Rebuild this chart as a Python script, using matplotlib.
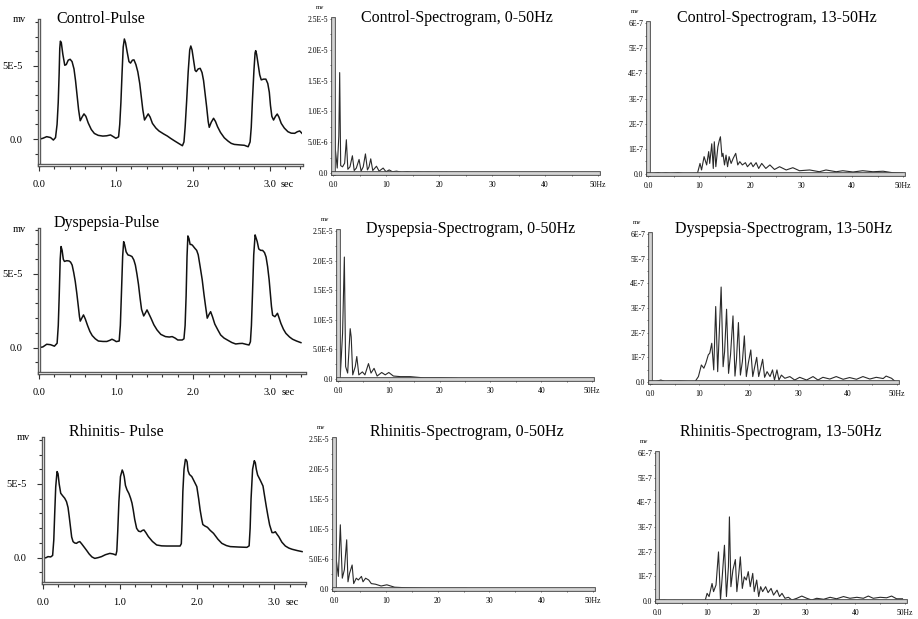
import matplotlib
matplotlib.use("Agg")
import matplotlib.pyplot as plt
import matplotlib.patheffects as pe
from matplotlib.ticker import MultipleLocator

plt.rcParams['font.family'] = ['Liberation Serif', 'DejaVu Serif']

# ---- pulse traces (time in sec, amplitude in 1E-5 mv) ----
ctrl_pulse_t = [0.0, 0.05, 0.1, 0.15, 0.187, 0.215, 0.235, 0.25, 0.262, 0.27, 0.278, 0.29, 0.31, 0.335,
                0.355, 0.38, 0.405, 0.43, 0.455, 0.475, 0.495, 0.515, 0.536, 0.56, 0.585, 0.61, 0.64, 0.68,
                0.72, 0.77, 0.83, 0.88, 0.93, 0.97, 1.0, 1.035,
                1.05, 1.065, 1.08, 1.095, 1.11, 1.125, 1.145, 1.17, 1.19, 1.215, 1.235, 1.26, 1.285, 1.31,
                1.33, 1.35, 1.372, 1.395, 1.42, 1.445, 1.475, 1.52, 1.56, 1.62, 1.67, 1.71, 1.76, 1.8,
                1.84, 1.865, 1.885,
                1.9, 1.92, 1.94, 1.96, 1.974, 1.99, 2.01, 2.03, 2.045, 2.07, 2.096, 2.12, 2.14, 2.16,
                2.18, 2.2, 2.214, 2.24, 2.27, 2.295, 2.322, 2.36, 2.41, 2.46, 2.5, 2.54, 2.6, 2.67,
                2.72, 2.745,
                2.76, 2.775, 2.795, 2.81, 2.818, 2.83, 2.85, 2.87, 2.89, 2.92, 2.95, 2.975, 2.995, 3.01,
                3.028, 3.05, 3.075, 3.098, 3.12, 3.15, 3.19, 3.237, 3.28, 3.325, 3.36, 3.39, 3.442]
ctrl_pulse_v = [-0.02, 0.05, 0.16, 0.1, -0.07, 0.1, 1.0, 2.5, 4.5, 6.2, 6.7, 6.6, 5.8, 5.05,
                5.1, 5.4, 5.46, 5.3, 4.8, 4.0, 3.0, 2.0, 1.25, 1.5, 1.72, 1.55, 1.1, 0.65,
                0.38, 0.25, 0.2, 0.22, 0.28, 0.15, 0.05, 0.15,
                1.0, 2.5, 4.5, 6.3, 6.85, 6.6, 6.0, 5.3, 5.2, 5.4, 5.42, 5.1, 4.6, 3.8,
                2.9, 2.0, 1.3, 1.5, 1.72, 1.5, 1.07, 0.75, 0.55, 0.35, 0.2, 0.05, -0.12, -0.25,
                -0.38, -0.46, -0.2,
                0.8, 2.6, 4.6, 6.1, 6.37, 6.1, 5.4, 4.7, 4.62, 4.8, 4.84, 4.55, 4.0, 3.1,
                2.2, 1.2, 0.8, 1.15, 1.42, 1.2, 0.84, 0.45, 0.08, -0.15, -0.3, -0.37, -0.4, -0.43,
                -0.53, -0.2,
                0.8, 2.6, 4.7, 5.9, 6.05, 5.8, 5.1, 4.4, 4.05, 4.1, 4.1, 3.8, 3.2, 2.3,
                1.55, 1.3, 1.55, 1.71, 1.5, 1.07, 0.75, 0.5, 0.4, 0.39, 0.5, 0.55, 0.27]

dysp_pulse_t = [0.0, 0.05, 0.1, 0.15, 0.2, 0.235, 0.25, 0.262, 0.275, 0.286, 0.3, 0.315, 0.33, 0.36,
                0.39, 0.41, 0.43, 0.45, 0.47, 0.49, 0.51, 0.525, 0.535, 0.555, 0.577, 0.6, 0.63, 0.66,
                0.69, 0.73, 0.77, 0.83, 0.88, 0.92, 0.946, 0.975, 1.002, 1.04,
                1.055, 1.068, 1.085, 1.098, 1.11, 1.13, 1.154, 1.18, 1.206, 1.23, 1.25, 1.27, 1.29, 1.31,
                1.33, 1.358, 1.38, 1.401, 1.425, 1.453, 1.49, 1.531, 1.58, 1.64, 1.69, 1.727, 1.765, 1.8,
                1.857, 1.88,
                1.895, 1.908, 1.92, 1.931, 1.945, 1.96, 1.975, 1.99, 2.02, 2.045, 2.065, 2.09, 2.117, 2.14,
                2.161, 2.182, 2.205, 2.226, 2.25, 2.28, 2.32, 2.356, 2.4, 2.443, 2.5, 2.551, 2.6, 2.638,
                2.69, 2.724, 2.742,
                2.755, 2.768, 2.785, 2.803, 2.815, 2.83, 2.85, 2.875, 2.9, 2.925, 2.945, 2.965, 2.985, 3.0,
                3.015, 3.03, 3.06, 3.093, 3.115, 3.137, 3.17, 3.202, 3.25, 3.289, 3.34, 3.397]
dysp_pulse_v = [0.0, 0.05, 0.23, 0.2, 0.1, 0.3, 1.5, 3.5, 6.0, 6.86, 6.6, 6.0, 5.85, 5.9,
                5.88, 5.8, 5.6, 5.1, 4.5, 3.7, 2.8, 2.1, 1.8, 2.0, 2.22, 1.95, 1.5, 1.1,
                0.82, 0.6, 0.45, 0.42, 0.42, 0.5, 0.57, 0.5, 0.41, 0.45,
                1.5, 3.5, 6.2, 7.19, 7.0, 6.5, 6.29, 6.25, 6.18, 5.95, 5.6, 5.0, 4.3, 3.4,
                2.6, 2.15, 2.35, 2.56, 2.3, 1.99, 1.55, 1.2, 0.9, 0.75, 0.72, 0.75, 0.65, 0.52,
                0.52, 0.6,
                1.5, 3.5, 6.2, 7.58, 7.4, 7.0, 7.0, 6.95, 6.75, 6.6, 6.3, 5.5, 4.6, 3.6,
                2.78, 2.0, 2.25, 2.44, 2.1, 1.6, 1.2, 0.86, 0.65, 0.52, 0.35, 0.25, 0.28, 0.29,
                0.22, 0.18, 0.4,
                1.5, 3.5, 6.3, 7.65, 7.45, 7.2, 6.7, 6.6, 6.6, 6.45, 6.15, 5.5, 4.6, 3.7,
                2.8, 2.2, 2.1, 2.33, 2.0, 1.65, 1.25, 0.97, 0.72, 0.57, 0.45, 0.34]

rhin_pulse_t = [0.0, 0.04, 0.065, 0.1, 0.125, 0.14, 0.152, 0.165, 0.182, 0.195, 0.21, 0.23, 0.255, 0.282,
                0.305, 0.325, 0.34, 0.356, 0.372, 0.39, 0.41, 0.434, 0.455, 0.477, 0.5, 0.529, 0.565, 0.599,
                0.635, 0.672, 0.715, 0.759, 0.81, 0.868, 0.91, 0.946, 0.958,
                0.97, 0.985, 1.005, 1.028, 1.04, 1.054, 1.07, 1.09, 1.115, 1.137, 1.155, 1.171, 1.19, 1.215,
                1.24, 1.267, 1.29, 1.31, 1.335, 1.367, 1.42, 1.475, 1.54, 1.605, 1.7, 1.779, 1.795,
                1.805, 1.815, 1.83, 1.848, 1.86, 1.87, 1.882, 1.9, 1.931, 1.96, 1.996, 2.02, 2.039, 2.06,
                2.074, 2.1, 2.134, 2.17, 2.213, 2.27, 2.321, 2.38, 2.43, 2.54, 2.646, 2.675,
                2.688, 2.7, 2.72, 2.742, 2.755, 2.768, 2.785, 2.82, 2.855, 2.875, 2.898, 2.92, 2.941, 2.972,
                2.995, 3.015, 3.035, 3.059, 3.1, 3.145, 3.19, 3.232, 3.3, 3.362]
rhin_pulse_v = [-0.05, 0.0, 0.07, 0.05, 0.15, 1.2, 3.0, 4.8, 5.84, 5.7, 5.0, 4.37, 4.2, 4.03,
                3.8, 3.4, 2.8, 2.1, 1.4, 1.09, 1.0, 0.97, 1.05, 1.09, 0.95, 0.75, 0.5, 0.25,
                0.05, -0.05, 0.0, 0.07, 0.2, 0.29, 0.25, 0.18, 0.45,
                1.8, 3.8, 5.5, 5.95, 5.8, 5.5, 4.9, 4.6, 4.35, 4.03, 3.7, 3.24, 2.6, 1.99,
                1.8, 1.76, 1.85, 1.88, 1.7, 1.43, 1.1, 0.86, 0.8, 0.79, 0.79, 0.79, 0.95,
                2.5, 4.5, 6.0, 6.67, 6.62, 6.5, 5.9, 5.65, 5.5, 5.2, 4.82, 4.0, 3.24, 2.6,
                2.25, 2.15, 2.06, 1.85, 1.65, 1.25, 0.97, 0.82, 0.75, 0.72, 0.70, 0.8,
                2.0, 4.0, 6.0, 6.58, 6.45, 6.0, 5.61, 5.25, 4.86, 4.2, 3.46, 2.8, 2.22, 1.7,
                1.7, 1.76, 1.6, 1.43, 1.05, 0.79, 0.65, 0.57, 0.48, 0.41]

# ---- spectra 0-50 Hz (freq in Hz, amplitude in 1E-5 mv) ----
ctrl_spec_f = [0.0, 0.2, 0.45, 0.8, 1.1, 1.26, 1.45, 1.8, 2.2, 2.52, 2.8, 3.2, 3.66, 4.0, 4.4,
               4.92, 5.3, 5.7, 6.12, 6.5, 6.8, 7.12, 7.5, 8.2, 8.7, 9.46, 10.0, 10.6, 11.2, 12.0,
               13.0, 14.0, 15.0, 16.0, 17.0, 18.0, 19.0, 20.0, 21.0, 21.5, 22.0, 50.0]
ctrl_spec_a = [2.5, 2.5, 0.38, 0.08, 0.6, 1.63, 0.12, 0.1, 0.16, 0.54, 0.06, 0.1, 0.28, 0.04, 0.08,
               0.22, 0.03, 0.1, 0.31, 0.05, 0.1, 0.23, 0.04, 0.11, 0.03, 0.08, 0.02, 0.05, 0.02, 0.03,
               0.01, 0.02, 0.01, 0.015, 0.01, 0.012, 0.008, 0.01, 0.008, 0.01, 0.0, 0.0]

dysp_spec_f = [0.0, 0.2, 0.46, 0.9, 1.25, 1.5, 1.9, 2.4, 2.6, 2.9, 3.4, 3.7, 4.1, 4.8, 5.3,
               6.0, 6.5, 7.1, 7.7, 8.6, 9.3, 10.0, 10.9, 12.3, 14.2, 16.8, 20.1, 23.4, 24.0, 50.0]
dysp_spec_a = [2.5, 2.5, 0.07, 0.77, 2.06, 0.21, 0.10, 0.85, 0.71, 0.07, 0.21, 0.38, 0.07, 0.12, 0.07,
               0.26, 0.10, 0.18, 0.05, 0.11, 0.07, 0.11, 0.05, 0.04, 0.04, 0.02, 0.02, 0.01, 0.0, 0.0]

rhin_spec_f = [0.0, 0.2, 0.45, 0.84, 1.22, 1.6, 2.0, 2.45, 2.7, 3.0, 3.5, 3.8, 4.3, 4.7, 5.3,
               5.6, 6.1, 6.7, 7.2, 8.0, 9.1, 10.2, 11.7, 14.0, 17.8, 22.3, 25.5, 26.8, 50.0]
rhin_spec_a = [2.5, 2.5, 0.48, 0.21, 1.07, 0.18, 0.32, 0.82, 0.12, 0.26, 0.40, 0.09, 0.18, 0.15, 0.21,
               0.12, 0.18, 0.15, 0.09, 0.08, 0.05, 0.07, 0.03, 0.02, 0.01, 0.01, 0.01, 0.0, 0.0]

# ---- spectra 13-50 Hz band (freq in Hz, amplitude in 1E-7 mv) ----
ctrl_band_f = [0.0, 1.0, 2.0, 2.6, 3.5, 4.5, 5.9, 7.0, 8.5, 9.7, 10.2, 10.5, 11.0, 11.5, 11.9,
               12.1, 12.5, 12.8, 13.0, 13.3, 13.7, 14.0, 14.2, 14.5, 14.7, 15.0, 15.3, 15.6, 15.9, 16.3,
               16.7, 17.2, 17.6, 18.0, 18.5, 19.1, 19.5, 20.2, 20.6, 21.2, 21.7, 22.3, 23.1, 23.9, 24.8,
               25.8, 27.1, 28.4, 29.7, 31.7, 33.6, 34.9, 36.9, 38.2, 40.2, 42.1, 44.1, 46.1, 48.0, 50.0]
ctrl_band_a = [0.02, 0.02, 0.05, 0.02, 0.04, 0.02, 0.05, 0.01, 0.02, 0.03, 0.42, 0.16, 0.69, 0.36, 0.89,
               0.42, 1.20, 0.22, 1.28, 0.29, 1.08, 1.35, 1.48, 0.69, 0.82, 0.36, 0.75, 0.29, 0.69, 0.42,
               0.62, 0.82, 0.36, 0.49, 0.36, 0.45, 0.29, 0.45, 0.29, 0.45, 0.22, 0.42, 0.22, 0.36, 0.18,
               0.29, 0.16, 0.25, 0.13, 0.16, 0.09, 0.16, 0.09, 0.13, 0.08, 0.13, 0.09, 0.11, 0.05, 0.03]

dysp_band_f = [0.0, 1.2, 2.2, 3.0, 4.5, 6.0, 7.5, 9.1, 9.8, 10.4, 10.9, 11.3, 11.8, 12.1, 12.5,
               12.9, 13.3, 13.7, 14.4, 14.8, 15.1, 15.5, 15.9, 16.3, 16.8, 17.2, 17.5, 17.9, 18.3, 18.7,
               19.1, 19.5, 19.9, 20.4, 20.8, 21.2, 21.6, 22.0, 22.4, 22.8, 23.2, 23.7, 24.3, 24.8, 25.2,
               25.7, 26.1, 26.6, 27.3, 28.3, 29.3, 30.3, 31.7, 33.0, 34.0, 35.0, 36.4, 37.7, 39.1, 40.4,
               41.8, 43.1, 44.5, 45.8, 47.2, 47.8, 48.9, 49.7]
dysp_band_a = [0.03, 0.02, 0.08, 0.02, 0.03, 0.04, 0.02, 0.01, 0.22, 0.69, 0.56, 0.76, 1.10, 1.17, 1.57,
               0.49, 3.06, 0.42, 3.85, 0.62, 1.23, 2.95, 0.35, 1.10, 2.68, 0.24, 0.89, 2.41, 0.28, 0.83,
               1.87, 0.22, 0.76, 1.30, 0.22, 0.62, 1.00, 0.22, 0.56, 0.92, 0.19, 0.42, 0.22, 0.49, 0.08,
               0.49, 0.08, 0.28, 0.15, 0.22, 0.08, 0.19, 0.08, 0.22, 0.08, 0.19, 0.12, 0.22, 0.11, 0.18,
               0.11, 0.22, 0.12, 0.19, 0.14, 0.24, 0.15, 0.01]

rhin_band_f = [0.0, 1.5, 2.3, 3.5, 5.0, 7.0, 9.7, 10.1, 10.5, 11.1, 11.4, 11.9, 12.4, 12.8, 13.2,
               13.6, 14.0, 14.4, 14.6, 14.9, 15.3, 15.8, 16.1, 16.5, 16.8, 17.2, 17.6, 18.0, 18.4, 18.8,
               19.3, 19.6, 20.1, 20.5, 20.9, 21.3, 21.9, 22.4, 23.0, 23.5, 24.2, 24.7, 25.2, 25.8, 26.5,
               27.2, 28.2, 29.2, 30.2, 31.2, 32.2, 33.6, 34.9, 36.2, 37.6, 38.9, 40.3, 41.6, 42.6, 43.6,
               45.0, 46.3, 47.3, 48.3, 49.5]
rhin_band_a = [0.02, 0.03, 0.01, 0.02, 0.01, 0.02, 0.01, 0.31, 0.18, 0.71, 0.38, 0.65, 1.99, 0.04, 1.12,
               2.26, 0.18, 1.39, 3.41, 0.58, 1.25, 1.68, 0.38, 1.12, 1.79, 0.51, 0.98, 0.85, 1.19, 0.58,
               1.12, 0.38, 0.85, 0.18, 0.58, 0.38, 0.58, 0.34, 0.51, 0.24, 0.44, 0.18, 0.31, 0.11, 0.15,
               0.04, 0.11, 0.20, 0.11, 0.04, 0.11, 0.07, 0.15, 0.09, 0.18, 0.11, 0.15, 0.11, 0.20, 0.11,
               0.15, 0.13, 0.20, 0.09, 0.09]

# ---- labels ----
pulse_titles = ['Control-Pulse', 'Dyspepsia-Pulse', 'Rhinitis- Pulse']
spec_titles = ['Control-Spectrogram, 0-50Hz', 'Dyspepsia-Spectrogram, 0-50Hz', 'Rhinitis-Spectrogram, 0-50Hz']
band_titles = ['Control-Spectrogram, 13-50Hz', 'Dyspepsia-Spectrogram, 13-50Hz', 'Rhinitis-Spectrogram, 13-50Hz']
pulse_xticks = [0, 1, 2, 3]
pulse_xlabels = ['0.0', '1.0', '2.0', '3.0']
pulse_yticks = [0, 5]
pulse_ylabels = ['0.0', '5E-5']
spec_xticks = [0, 10, 20, 30, 40, 50]
spec_xlabels = ['0.0', '10', '20', '30', '40', '50Hz']
spec_yticks = [0, 0.5, 1.0, 1.5, 2.0, 2.5]
spec_ylabels = ['0.0', '5.0E-6', '1.0E-5', '1.5E-5', '2.0E-5', '2.5E-5']
band_yticks = [0, 1, 2, 3, 4, 5, 6]
band_ylabels = ['0.0', '1E-7', '2E-7', '3E-7', '4E-7', '5E-7', '6E-7']

W, H = 918, 619
fig = plt.figure(figsize=(W / 100, H / 100), dpi=100)
fig.patch.set_facecolor('white')


def box(l, t, r, b):
    return [l / W, 1 - b / H, (r - l) / W, (b - t) / H]


def style_axes(ax, inner, outer):
    for side in ('top', 'right'):
        ax.spines[side].set_visible(False)
    for side in ('left', 'bottom'):
        sp = ax.spines[side]
        sp.set_color('#d4d4d4')
        sp.set_linewidth(inner)
        sp.set_path_effects([pe.Stroke(linewidth=outer, foreground='#4a4a4a'), pe.Normal()])
    ax.set_facecolor('none')


def pulse_panel(rect, t, v, xmax, ylo, yhi, title, tx, ty):
    ax = fig.add_axes(box(*rect))
    ax.plot(t, v, color='#111111', lw=1.1)
    ax.set_xlim(0, xmax)
    ax.set_ylim(ylo, yhi)
    style_axes(ax, 0.9, 2.4)
    ax.set_xticks(pulse_xticks)
    ax.set_xticklabels(pulse_xlabels)
    ax.xaxis.set_minor_locator(MultipleLocator(0.2))
    ax.set_yticks(pulse_yticks)
    ax.set_yticklabels(pulse_ylabels)
    ax.yaxis.set_minor_locator(MultipleLocator(1))
    ax.tick_params(which='both', direction='out', color='#333333', width=0.8)
    ax.tick_params(axis='x', which='major', length=4, pad=7, labelsize=7.5)
    ax.tick_params(axis='x', which='minor', length=3)
    ax.tick_params(axis='y', which='major', length=4, pad=8, labelsize=7.5)
    ax.tick_params(axis='y', which='minor', length=3)
    ax.annotate('sec', xy=(3.0, 0), xycoords=('data', 'axes fraction'), xytext=(8, -11),
                textcoords='offset points', ha='left', va='top', fontsize=7.5)
    ax.annotate('mv', xy=(0, 1), xycoords='axes fraction', xytext=(-14, 0),
                textcoords='offset points', ha='center', va='center', fontsize=7.5)
    fig.text(tx / W, 1 - ty / H, title, ha='center', va='center', fontsize=11.5)
    return ax


def spec_panel(rect, f, a, ymax, yticks, ylabels, title, tx, ty):
    ax = fig.add_axes(box(*rect))
    ax.plot(f, a, color='#2a2a2a', lw=0.8)
    ax.set_xlim(0, 50)
    ax.set_ylim(0, ymax)
    style_axes(ax, 2.0, 3.4)
    ax.set_xticks(spec_xticks)
    ax.set_xticklabels(spec_xlabels)
    ax.xaxis.set_minor_locator(MultipleLocator(5))
    ax.set_yticks(yticks)
    ax.set_yticklabels(ylabels)
    ax.yaxis.set_minor_locator(MultipleLocator(yticks[1] / 2))
    ax.tick_params(which='both', direction='out', color='#555555', width=0.6, length=2)
    ax.tick_params(axis='x', which='major', pad=4, labelsize=5.5)
    ax.tick_params(axis='y', which='major', pad=1.5, labelsize=5.5)
    ax.annotate('mv', xy=(0, 1), xycoords='axes fraction', xytext=(-9, 8),
                textcoords='offset points', ha='center', va='center', fontsize=4.8)
    fig.text(tx / W, 1 - ty / H, title, ha='center', va='center', fontsize=11.5)
    return ax


pulse_panel((39, 20, 302, 165), ctrl_pulse_t, ctrl_pulse_v, 3.42, -1.78, 8.15, pulse_titles[0], 101, 19)
pulse_panel((39, 229, 305, 373), dysp_pulse_t, dysp_pulse_v, 3.45, -1.72, 8.05, pulse_titles[1], 107, 223)
pulse_panel((43, 438, 305, 583), rhin_pulse_t, rhin_pulse_v, 3.40, -1.72, 8.12, pulse_titles[2], 116, 432)

spec_panel((333, 19, 598, 173), ctrl_spec_f, ctrl_spec_a, 2.5, spec_yticks, spec_ylabels, spec_titles[0], 457, 18)
spec_panel((338, 231, 592, 379), dysp_spec_f, dysp_spec_a, 2.5, spec_yticks, spec_ylabels, spec_titles[1], 471, 229)
spec_panel((334, 439, 593, 589), rhin_spec_f, rhin_spec_a, 2.5, spec_yticks, spec_ylabels, spec_titles[2], 467, 432)

spec_panel((648, 23, 903, 174), ctrl_band_f, ctrl_band_a, 6, band_yticks, band_ylabels, band_titles[0], 777, 18)
spec_panel((650, 234, 897, 382), dysp_band_f, dysp_band_a, 6, band_yticks, band_ylabels, band_titles[1], 784, 229)
spec_panel((657, 453, 905, 601), rhin_band_f, rhin_band_a, 6, band_yticks, band_ylabels, band_titles[2], 781, 432)

fig.savefig('out.png', dpi=100, facecolor='white')
